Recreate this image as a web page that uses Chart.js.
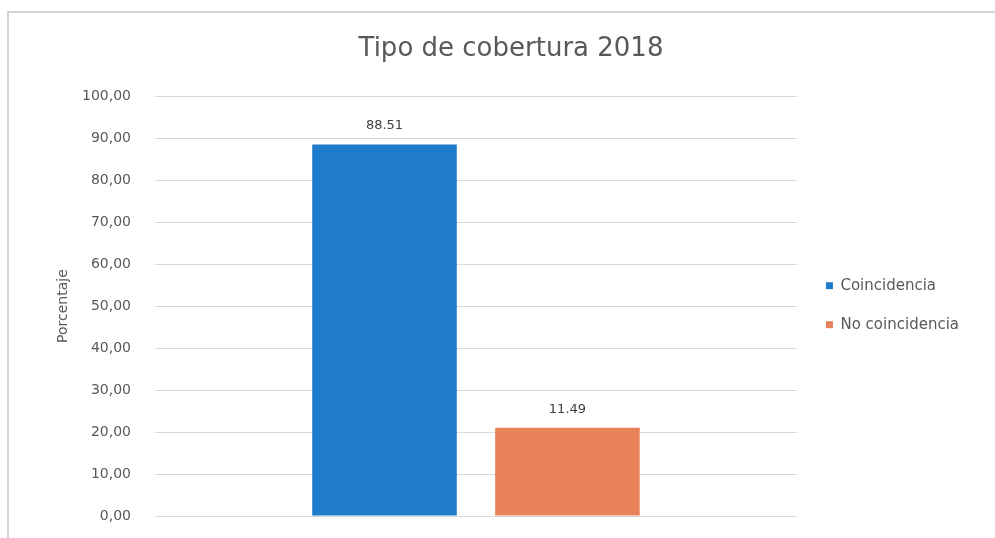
<!DOCTYPE html>
<html>
<head>
<meta charset="utf-8">
<script src="https://cdn.jsdelivr.net/npm/chart.js@4/dist/chart.umd.min.js"></script>
<style>
  html, body { margin: 0; padding: 0; background: #ffffff; }
  #wrap { width: 995px; height: 538px; position: relative; }
</style>
</head>
<body>
<div id="wrap"><canvas id="chart" width="995" height="538"></canvas></div>
<script>
// values
const categories = [''];
const seriesNames = ['Coincidencia', 'No coincidencia'];
const barHeights = [88.51, 21.0];      // drawn height of each bar
const barLabels = ['88.51', '11.49'];  // text printed above each bar
const seriesColors = ['#1f7bcc', '#e8825a'];
const yTicks = [0, 10, 20, 30, 40, 50, 60, 70, 80, 90, 100];

const textGrey = '#595959';
const fontFam = '"DejaVu Sans", "Noto Sans", sans-serif';

// light frame round the chart, like the scanned sheet
const framePlugin = {
    id: 'frame',
    beforeDraw(chart) {
        const c = chart.ctx;
        c.save();
        c.strokeStyle = '#d4d4d4';
        c.lineWidth = 2;
        c.beginPath();
        c.moveTo(8, 538);
        c.lineTo(8, 12);
        c.lineTo(995, 12);
        c.stroke();
        c.restore();
    }
};

// value labels above the bars
const valueLabels = {
    id: 'valueLabels',
    afterDatasetsDraw(chart) {
        const c = chart.ctx;
        c.save();
        c.font = '13px ' + fontFam;
        c.fillStyle = '#404040';
        c.textAlign = 'center';
        c.textBaseline = 'bottom';
        chart.data.datasets.forEach((ds, i) => {
            const meta = chart.getDatasetMeta(i);
            meta.data.forEach((bar) => {
                c.fillText(barLabels[i], bar.x, bar.y - 12);
            });
        });
        c.restore();
    }
};

new Chart(document.getElementById('chart'), {
    type: 'bar',
    data: {
        labels: categories,
        datasets: seriesNames.map((name, i) => ({
            label: name,
            data: [barHeights[i]],
            yAxisID: 'y',
            backgroundColor: seriesColors[i],
            borderWidth: 0,
            barPercentage: 0.79,
            categoryPercentage: 0.57
        }))
    },
    options: {
        responsive: false,
        animation: false,
        layout: {
            padding: { left: 53, right: 26, top: 20, bottom: 22 }
        },
        scales: {
            x: {
                display: false
            },
            y: {
                min: 0,
                max: 100,
                afterBuildTicks(axis) {
                    axis.ticks = yTicks.map(v => ({ value: v }));
                },
                afterFit(axis) {
                    axis.width = 102;
                    // tick padding should only push labels sideways
                    axis.paddingTop = 8;
                    axis.paddingBottom = 8;
                },
                border: { display: false },
                grid: {
                    color: '#d9d9d9',
                    drawTicks: false
                },
                ticks: {
                    padding: 24,
                    color: textGrey,
                    font: { size: 14, family: fontFam },
                    callback: v => v.toFixed(2).replace('.', ',')
                },
                title: {
                    display: true,
                    text: 'Porcentaje',
                    color: textGrey,
                    font: { size: 14, family: fontFam },
                    padding: { top: 2, bottom: 0 }
                }
            },
            // empty spacer between plot and legend
            gap: {
                position: 'right',
                display: true,
                ticks: { display: false },
                grid: { display: false },
                border: { display: false },
                afterFit(axis) { axis.width = 5; }
            }
        },
        plugins: {
            title: {
                display: true,
                text: 'Tipo de cobertura 2018',
                color: textGrey,
                font: { size: 26, weight: 'normal', family: fontFam },
                padding: { top: 14, bottom: 31 }
            },
            legend: {
                position: 'right',
                maxWidth: 260,
                title: {
                    display: true,
                    text: ' ',
                    padding: 30
                },
                labels: {
                    boxWidth: 7,
                    boxHeight: 7,
                    padding: 24,
                    color: textGrey,
                    font: { size: 15, family: fontFam }
                }
            },
            tooltip: { enabled: false }
        }
    },
    plugins: [framePlugin, valueLabels]
});
</script>
</body>
</html>
